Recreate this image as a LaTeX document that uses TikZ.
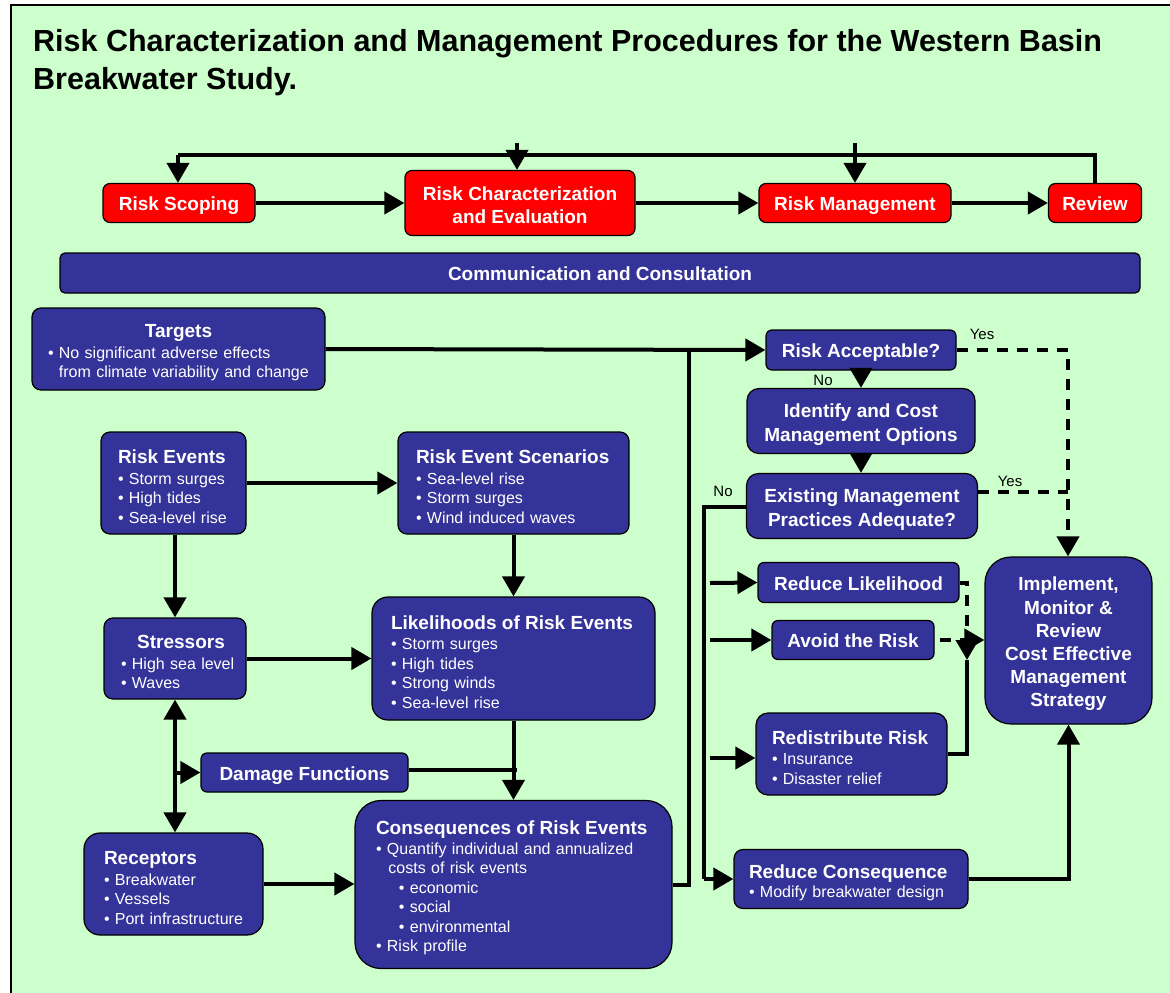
\documentclass[tikz,border=0pt]{standalone}
\usepackage{fontspec}
\setmainfont{Liberation Sans}
\usetikzlibrary{arrows.meta}
\definecolor{bgreen}{HTML}{CCFFCC}
\definecolor{navy}{HTML}{333399}
\definecolor{rbox}{HTML}{FF0000}

\tikzset{
  box/.style={draw=black, line width=1.2pt, text=white, inner sep=0pt},
  redbox/.style={box, fill=rbox, rounded corners=7pt, align=center,
    font=\bfseries\fontsize{19}{23}\selectfont},
  oneline/.style={text height=15pt, text depth=0pt},
  bluebox/.style={box, fill=navy, rounded corners=9pt, align=left,
    font=\fontsize{16}{19.5}\selectfont},
  bluelabel/.style={bluebox, align=center, oneline, rounded corners=6pt,
    font=\bfseries\fontsize{19}{22}\selectfont},
  cbox/.style={bluebox, align=center, font=\bfseries\fontsize{19}{23.2}\selectfont},
  flow/.style={line width=4pt, -{Triangle[length=20pt,width=22pt]}},
  twoway/.style={line width=4pt, {Triangle[length=20pt,width=22pt]}-{Triangle[length=20pt,width=22pt]}},
  plain/.style={line width=4pt},
  dashflow/.style={line width=4pt, dash pattern=on 11pt off 9pt},
  lbl/.style={font=\fontsize{15}{18}\selectfont, text=black, inner sep=0pt},
}
% bold heading inside a box
\newcommand{\hd}[1]{{\bfseries\fontsize{19}{22}\selectfont #1}}
% heading centred over the box text
\newcommand{\ctr}[1]{\makebox[\hsize][c]{#1}}
% space taken by a bullet, for continued lines
\newcommand{\ind}{\phantom{\textbullet\ }}
% extra room above the first line of a box
\newcommand{\up}{\rule{0pt}{21pt}}

\begin{document}
\begin{tikzpicture}[x=1pt,y=-1pt]
\useasboundingbox (0,0) rectangle (1170,993);
% frame
\draw[fill=bgreen, line width=2pt] (11,5) rectangle (1200,1020);

% title
\node[anchor=base west, align=left, inner sep=0pt,
  font=\bfseries\fontsize{30.5}{37.5}\selectfont] (title) at (33,89)
  {Risk Characterization and Management Procedures for the Western Basin\\Breakwater Study.};

% process row
\node[redbox, oneline, minimum width=152pt, minimum height=39pt] (scope) at (179,203) {Risk Scoping};
\node[redbox, minimum width=230pt, minimum height=65pt] (chareval) at (520,203) {\rule{0pt}{19pt}Risk Characterization\\and Evaluation};
\node[redbox, oneline, minimum width=192pt, minimum height=39pt] (mgmt) at (855,203) {Risk Management};
\node[redbox, oneline, minimum width=93pt, minimum height=39pt] (review) at (1095,203) {Review};

\node[bluelabel, minimum width=1080pt, minimum height=40pt, rounded corners=5pt] (comm) at (600,273)
  {Communication and Consultation};

% left column
\node[bluebox, minimum width=293pt, minimum height=82pt, text width=261pt] (targets) at (178.5,349)
  {\ctr{\hd{\up Targets}}\\[1pt]\textbullet\ No significant adverse effects\\\ind from climate variability and change};

\node[bluebox, minimum width=145pt, minimum height=102pt, text width=111pt] (events) at (173.5,483)
  {\hd{\up Risk Events}\\[1pt]\textbullet\ Storm surges\\\textbullet\ High tides\\\textbullet\ Sea-level rise};

\node[bluebox, minimum width=231pt, minimum height=102pt, text width=195pt] (scen) at (513.5,483)
  {\hd{\up Risk Event Scenarios}\\[1pt]\textbullet\ Sea-level rise\\\textbullet\ Storm surges\\\textbullet\ Wind induced waves};

\node[bluebox, minimum width=142pt, minimum height=81pt, text width=108pt] (stress) at (175,658.5)
  {\ctr{\hspace{12pt}\hd{\up Stressors}}\\[1pt]\textbullet~High~sea~level\\\textbullet~Waves};

\node[bluebox, minimum width=283pt, minimum height=123pt, text width=245pt, rounded corners=16pt] (likeli) at (513.5,658.5)
  {\hd{\up Likelihoods of Risk Events}\\[1pt]\textbullet\ Storm surges\\\textbullet\ High tides\\\textbullet\ Strong winds\\\textbullet\ Sea-level rise};

\node[bluelabel, minimum width=207pt, minimum height=39pt] (damage) at (304.5,772.5) {Damage Functions};

\node[bluebox, minimum width=179pt, minimum height=102pt, text width=139pt, rounded corners=16pt] (recept) at (173.5,884)
  {\hd{\up Receptors}\\[1pt]\textbullet\ Breakwater\\\textbullet\ Vessels\\\textbullet\ Port infrastructure};

\node[bluebox, minimum width=317pt, minimum height=168pt, text width=275pt, rounded corners=26pt] (conseq) at (513.5,884.5)
  {\hd{\up Consequences of Risk Events}\\[0pt]
   \textbullet\ Quantify individual and annualized\\
   \ind\hspace{1.5pt}costs of risk events\\
   \ind\hspace{12pt}\textbullet\ economic\\
   \ind\hspace{12pt}\textbullet\ social\\
   \ind\hspace{12pt}\textbullet\ environmental\\
   \textbullet\ Risk profile};

% right column
\node[bluelabel, minimum width=190pt, minimum height=40pt] (accept) at (861,350) {Risk Acceptable?};
\node[cbox, font=\bfseries\fontsize{19}{24}\selectfont, minimum width=228pt, minimum height=65pt, rounded corners=12pt] (options) at (861,421)
  {\up Identify and Cost\\Management Options};
\node[cbox, font=\bfseries\fontsize{19}{24}\selectfont, minimum width=231pt, minimum height=65pt, rounded corners=12pt] (adequate) at (862,506)
  {\up Existing Management\\Practices Adequate?};

\node[bluelabel, minimum width=201pt, minimum height=40pt] (redlike) at (858.5,582.5) {Reduce Likelihood};
\node[bluelabel, minimum width=162pt, minimum height=39pt] (avoid) at (853,640) {Avoid the Risk};
\node[bluebox, minimum width=191pt, minimum height=82pt, text width=159pt, rounded corners=12pt] (redist) at (851.5,754)
  {\hd{\up Redistribute Risk}\\[1pt]\textbullet\ Insurance\\\textbullet\ Disaster relief};
\node[bluebox, minimum width=234pt, minimum height=59pt, text width=204pt, rounded corners=9pt] (redcons) at (851,879)
  {\hd{\up Reduce Consequence}\\[0pt]\textbullet\ Modify breakwater design};

\node[cbox, minimum width=167pt, minimum height=167pt, rounded corners=26pt] (implement) at (1068.5,640.5)
  {\up Implement,\\Monitor \&\\Review\\Cost Effective\\Management\\Strategy};

% labels
\node[lbl] (yes1) at (982,334) {Yes};
\node[lbl] (no1) at (823,380) {No};
\node[lbl] (yes2) at (1010,481) {Yes};
\node[lbl] (no2) at (723,491) {No};

% junction points
\coordinate (topA) at (517,143);
\coordinate (topB) at (855,143);
\coordinate (loopR) at (1095,155);
\coordinate (loopL) at (178,155);
\coordinate (trunkA) at (689,0);
\coordinate (trunkB) at (704,0);
\coordinate (yesdrop) at (1068,0);
\coordinate (merge) at (967,660);
\coordinate (dmgend) at (517,770);

% process row connectors
\draw[plain] (review.north -| loopR) -- (loopR) -- (loopL);
\draw[flow] (loopL) -- (loopL |- scope.north);
\draw[flow] (topA) -- (topA |- chareval.north);
\draw[flow] (topB) -- (topB |- mgmt.north);
\draw[flow] (scope) -- (chareval);
\draw[flow] (chareval) -- (mgmt);
\draw[flow] (mgmt) -- (review);

% left column connectors
\draw[flow] (targets.east) -- (accept.west);
\draw[flow] (events) -- (scen);
\draw[flow] (events.south -| 175,0) -- (stress.north -| 175,0);
\draw[flow] (scen.south) -- (likeli.north);
\draw[flow] (stress.east) -- (stress.east -| likeli.west);
\draw[flow] (likeli.south) -- (conseq.north);
\draw[plain] (damage.east |- dmgend) -- (dmgend);
\draw[twoway] (stress.south) -- (recept.north -| stress.south);
\draw[flow] (177,772.5) -- (damage.west);
\draw[flow] (recept.east |- 0,884) -- (conseq.west |- 0,884);
\draw[plain] (conseq.east |- 0,885) -| (trunkA |- accept.west);

% right column connectors
\draw[flow] (accept.south) -- (accept.south |- options.north);
\draw[flow] (options.south -| accept.south) -- (accept.south |- adequate.north);
\draw[dashflow, -{Triangle[length=20pt,width=22pt]}] (accept.east) -| (yesdrop |- implement.north);
\draw[dashflow] (adequate.east |- 0,492) -- (yesdrop |- 0,492);
\draw[plain] (adequate.west |- 0,507) -| (trunkB |- redcons.west);
\draw[flow] (trunkB |- redcons.west) -- (redcons.west);
\draw[flow] (710,583) -- (redlike.west);
\draw[flow] (710,640) -- (avoid.west);
\draw[flow] (710,758) -- (redist.west |- 0,758);
\draw[dashflow, -{Triangle[length=20pt,width=22pt]}] (redlike.east) -| (merge);
\draw[dashflow, -{Triangle[length=20pt,width=22pt]}] ([xshift=5pt]avoid.east) -- (implement.west |- avoid.east);
\draw[plain] (redist.east) -| (merge);
\draw[flow] (redcons.east) -| (implement.south);
\end{tikzpicture}
\end{document}
